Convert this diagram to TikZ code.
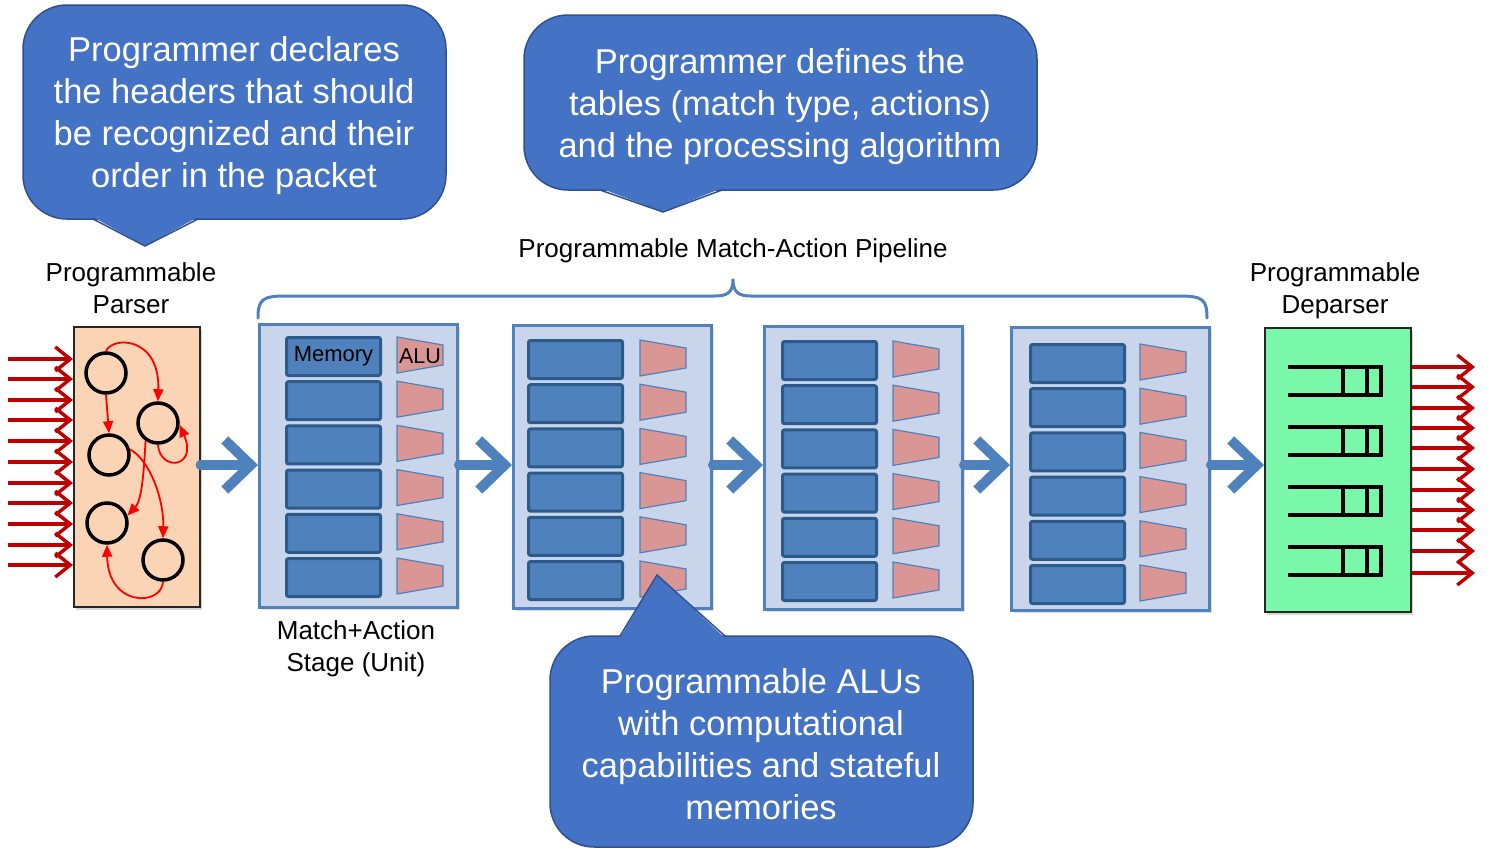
\documentclass[tikz,border=0pt]{standalone}
\usepackage{fontspec}
\setmainfont{Liberation Sans}
\usetikzlibrary{arrows.meta,shadows}

\definecolor{calloutfill}{HTML}{4472C4}
\definecolor{calloutline}{HTML}{2F528F}
\definecolor{pipeblue}{HTML}{4F81BD}
\definecolor{stagefill}{HTML}{C8D5EA}
\definecolor{memline}{HTML}{2C5A8A}
\definecolor{alufill}{HTML}{D99694}
\definecolor{parserfill}{HTML}{FAD4B5}
\definecolor{deparserfill}{HTML}{78F8A8}
\definecolor{wirered}{HTML}{C00000}
\definecolor{fsmred}{HTML}{FF0000}

\tikzset{
  bubble/.style={fill=calloutfill, draw=calloutline, line width=1.5pt, rounded corners=44pt},
  bubbletext/.style={text=white, align=center, font=\fontsize{34.5}{42}\selectfont},
  label/.style={text=black, align=center, font=\fontsize{26}{31.5}\selectfont},
  stagebox/.style={fill=stagefill, draw=pipeblue, line width=3pt, drop shadow={opacity=0.25, shadow xshift=2pt, shadow yshift=-2pt}},
  membox/.style={fill=pipeblue, draw=memline, line width=3pt, rounded corners=2pt},
  alu/.style={fill=alufill, draw=pipeblue, line width=1.2pt},
  block/.style={draw=black!85, line width=1.5pt, drop shadow={opacity=0.3, shadow xshift=2pt, shadow yshift=-3pt}},
  state/.style={circle, draw=black, line width=3.5pt, minimum size=40pt, inner sep=0pt},
  fsm/.style={draw=fsmred, line width=1.8pt, -{Triangle[length=12pt,width=10pt]}},
  wire/.style={draw=wirered, line width=3.4pt, -{Straight Barb[length=15pt,width=24pt,line width=3.4pt]}},
  flow/.style={draw=pipeblue, line width=10pt, line cap=round, -{Straight Barb[length=26pt,width=50pt,line width=10pt]}},
  queue/.style={draw=black, line width=4pt},
}

\begin{document}
\begin{tikzpicture}[x=1pt,y=-1pt]
\useasboundingbox (0,0) rectangle (1497,849);
\fill[white] (0,0) rectangle (1497,849);

% ---------- parser ----------
\node[block, fill=parserfill, minimum width=126pt, minimum height=280pt, inner sep=0pt, anchor=north west] (parser) at (73,326) {};
\node[label] (parserlbl) at (131,288) {Programmable\\Parser};

\foreach \i/\y in {1/359,2/379,3/400,4/420,5/441,6/462,7/483,8/503,9/524,10/545,11/565}{
  \coordinate (in\i) at (8,\y);
  \path[wire] (in\i) -- (parser.west |- in\i);
}

\node[state] (c1) at (106,373) {};
\node[state] (c2) at (158,423) {};
\node[state] (c3) at (109,455) {};
\node[state] (c4) at (107,523) {};
\node[state] (c5) at (163,560) {};

\path[fsm] (c1.north) .. controls (112,336) and (160,336) .. (c2.north);
\path[fsm] (c1.south) -- (c3.north);
\path[fsm] (c2.235) .. controls (144,470) and (142,500) .. (c4.20);
\path[fsm] (c3.15) .. controls (150,460) and (164,500) .. (c5.north);
\path[fsm] (c2.south) .. controls (160,472) and (198,468) .. (c2.-5);
\path[fsm] (c5.south) .. controls (162,606) and (108,608) .. (c4.south);

% ---------- match-action stages ----------
% left x, top y, memory offset, alu offset, row offset, name
\foreach \sx/\sy/\mo/\ao/\ro/\n in {258/323/27/139/13/1, 512/324/15/128/15/2, 763/325/18/130/15/3, 1010/326/19/130/17/4}{
  \node[stagebox, minimum width=198pt, minimum height=283pt, inner sep=0pt, anchor=north west] (stage\n) at (\sx,\sy) {};
  \foreach \r in {0,...,5}{
    \pgfmathsetmacro{\ry}{\sy+\ro+44.2*\r}
    \node[membox, minimum width=94pt, minimum height=38pt, inner sep=0pt, anchor=north west] (mem\n-\r) at (\sx+\mo,\ry) {};
    \draw[alu] (\sx+\ao,\ry+1) -- ++(46,8) -- ++(0,20) -- ++(-46,8) -- cycle;
  }
}
\node[font=\fontsize{22}{26}\selectfont, inner sep=0pt] (memtext) at (mem1-0) {Memory};
\node[font=\fontsize{21.5}{26}\selectfont, inner sep=0pt] (alutext) at (420,356) {ALU};

\node[label] (stagelbl) at (356,649) {Match+Action\\Stage (Unit)};

% brace over the pipeline
\draw[pipeblue, line width=3pt, line cap=round] (stage1.north west) ++(0,-5) coordinate (bl)
  (bl) .. controls (258,300) and (262,296) .. (285,296) -- (715,296)
  .. controls (728,296) and (733,292) .. (733,279) coordinate (bpeak)
  .. controls (733,292) and (738,296) .. (751,296) -- (1180,296)
  .. controls (1203,296) and (1207,300) .. (1207,318) coordinate (br);
\node[label] (pipelbl) at (733,251) {Programmable Match-Action Pipeline};

% ---------- deparser ----------
\node[block, fill=deparserfill, minimum width=146pt, minimum height=284pt, inner sep=0pt, anchor=north west] (deparser) at (1264,327) {};
\node[label] (deparserlbl) at (1335,291) {Programmable\\Deparser};

\foreach \k in {0,...,3}{
  \pgfmathsetmacro{\qy}{367+60*\k}
  \draw[queue] (1288,\qy) -- (1381,\qy) -- (1381,\qy+28) -- (1288,\qy+28);
  \draw[queue] (1343,\qy) -- (1343,\qy+28);
  \draw[queue] (1367,\qy) -- (1367,\qy+28);
}

\foreach \i/\y in {1/367,2/387,3/408,4/428,5/448,6/469,7/490,8/510,9/530,10/551,11/573}{
  \coordinate (out\i) at (1475,\y);
  \path[wire] (deparser.east |- out\i) -- (out\i);
}

% ---------- flow between blocks ----------
\path[flow] (parser.east |- 0,465) -- (stage1.west |- 0,465);
\path[flow] (stage1.east |- 0,465) -- (stage2.west |- 0,465);
\path[flow] (stage2.east |- 0,465) -- (stage3.west |- 0,465);
\path[flow] (stage3.east |- 0,465) -- (stage4.west |- 0,465);
\path[flow] (stage4.east |- 0,465) -- (deparser.west |- 0,465);

% ---------- callouts ----------
\draw[bubble] (23,5) rectangle (446,219);
\fill[calloutfill] (93,217) -- (145,246) -- (198,217) -- cycle;
\draw[calloutline, line width=1.5pt] (93,219) -- (145,246) coordinate (tipA) -- (198,219);
\node[bubbletext] (noteparser) at (234,116) {Programmer declares\\the headers that should\\be recognized and their\\order in the packet};

\draw[bubble] (524,15) rectangle (1037,190);
\fill[calloutfill] (600,188) -- (663,212) -- (722,188) -- cycle;
\draw[calloutline, line width=1.5pt] (600,190) -- (663,212) coordinate (tipB) -- (722,190);
\node[bubbletext] (notetables) at (780,107) {Programmer defines the\\tables (match type, actions)\\and the processing algorithm};

\draw[bubble] (550,636) rectangle (973,847);
\fill[calloutfill] (620,638) -- (657,575) -- (725,638) -- cycle;
\draw[calloutline, line width=1.5pt] (620,636) -- (657,575) coordinate (tipC) -- (725,636);
\node[bubbletext] (notealu) at (761,744) {Programmable ALUs\\with computational\\capabilities and stateful\\memories};
\end{tikzpicture}
\end{document}
